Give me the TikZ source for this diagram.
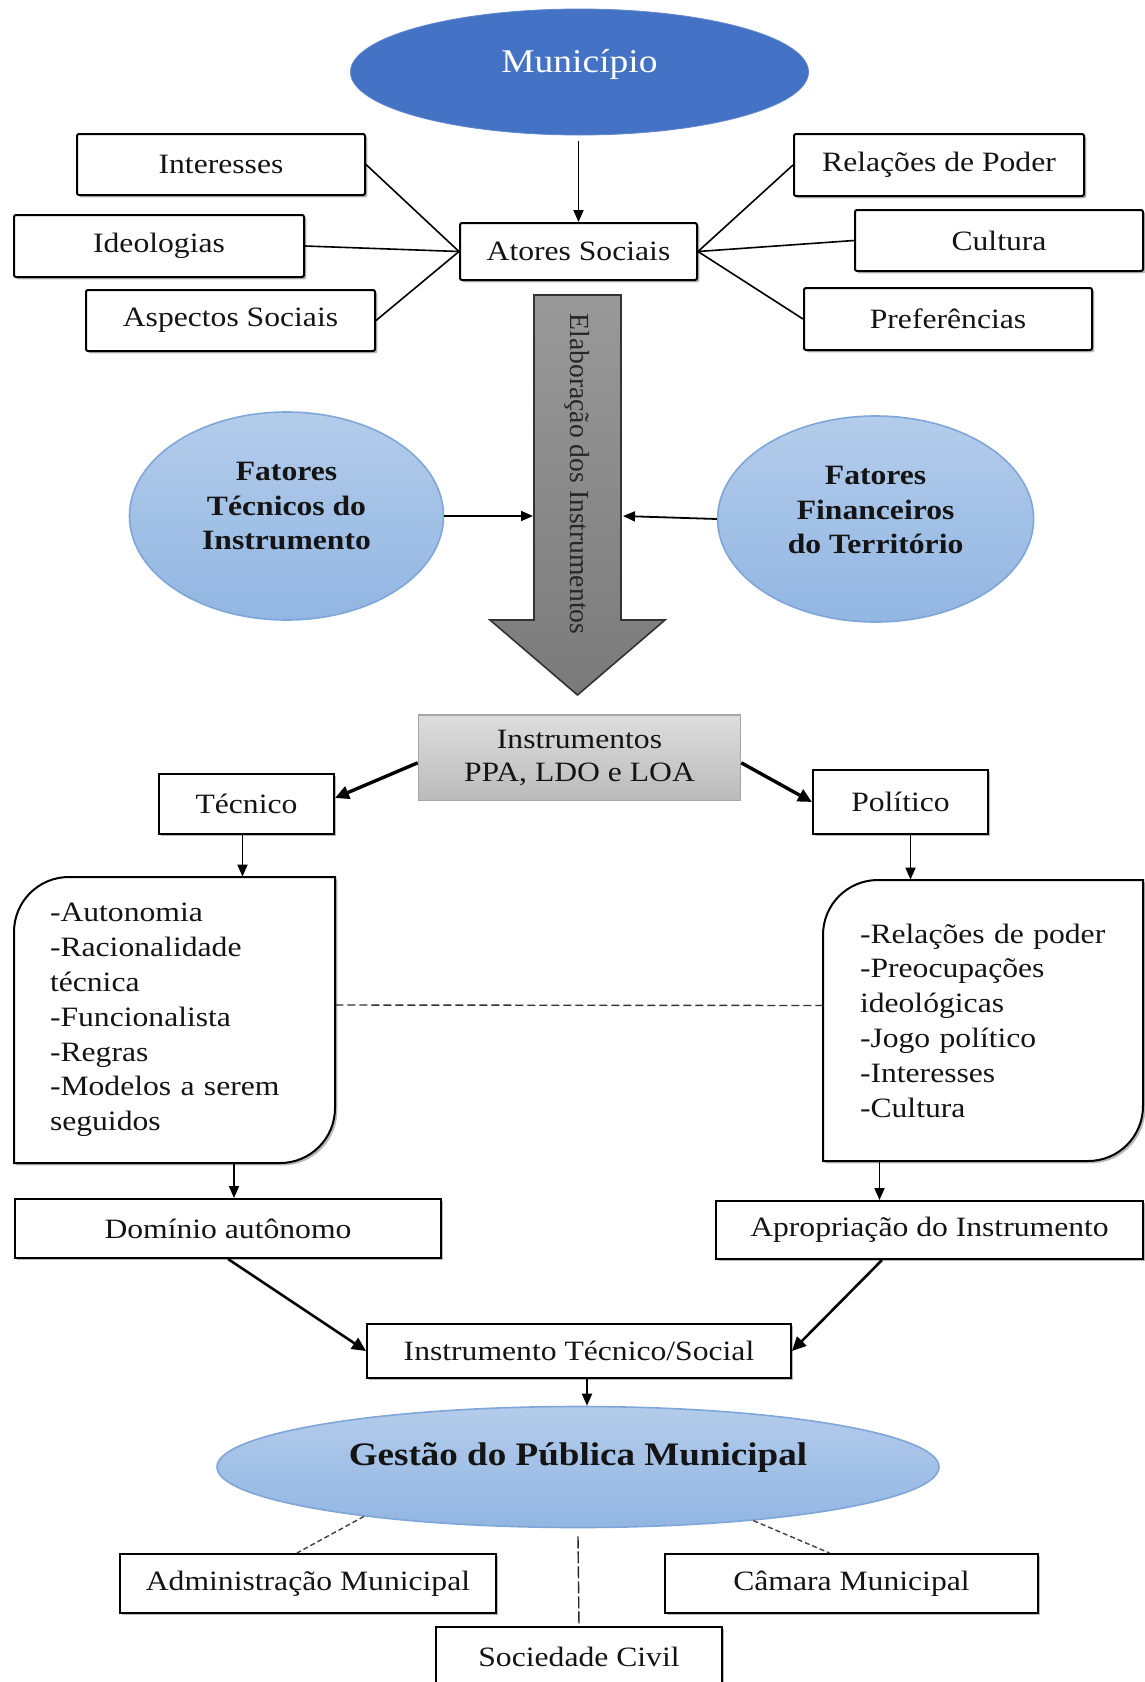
\documentclass[tikz,border=0pt]{standalone}
\usepackage{fontspec}
\setmainfont{Liberation Serif}[FakeStretch=1.13]
\newfontfamily\plainserif{Liberation Serif}
\usetikzlibrary{arrows.meta,shapes.geometric,shadows}
\definecolor{munblue}{HTML}{4472C4}
\definecolor{lbtop}{HTML}{B3CCEB}
\definecolor{lbbot}{HTML}{92B6E2}
\definecolor{lbedge}{HTML}{7FA6D8}
\definecolor{txt}{HTML}{141414}
\begin{document}
\begin{tikzpicture}[x=0.5pt,y=-0.5pt,
  every node/.style={text=txt},
  box/.style={draw=black, line width=1pt, fill=white, rectangle, rounded corners=1pt, inner sep=0pt,
    font=\fontsize{14}{17}\selectfont,
    drop shadow={shadow xshift=1.2pt, shadow yshift=-1.2pt, fill=black, opacity=0.28}},
  lblob/.style={ellipse, draw=lbedge, line width=0.8pt, top color=lbtop, bottom color=lbbot, inner sep=0pt},
  boldtxt/.style={font=\bfseries\fontsize{14}{17.4}\selectfont, align=center, inner sep=0pt},
  listtxt/.style={rectangle, inner xsep=18pt, inner ysep=0pt, align=left,
    font=\fontsize{14}{17.4}\selectfont},
  listshape/.style={draw=black, line width=1pt, fill=white,
    drop shadow={shadow xshift=1.2pt, shadow yshift=-1.2pt, fill=black, opacity=0.28}},
  link/.style={draw=black, line width=0.8pt},
  arr/.style={draw=black, line width=0.9pt, -{Triangle[length=6pt,width=5pt]}},
  tarr/.style={draw=black, line width=1.7pt, -{Triangle[length=7pt,width=6.5pt]}},
  dsh/.style={draw=black!80, line width=0.7pt, dash pattern=on 4pt off 2pt},
]
\fill[white] (0,0) rectangle (1145,1682);
\useasboundingbox (0,0) rectangle (1145,1682);

% --- top ---
\node[ellipse, fill=munblue, draw=munblue!85!white, minimum width=229pt, minimum height=63pt, inner sep=0pt] (mun) at (579.5,72) {};
\node[font=\fontsize{16.6}{19}\selectfont, text=white, inner sep=0pt] (munT) at (579.5,64) {Município};

\node[box, minimum width=118.5pt, minimum height=28.5pt] (atores) at (578.5,251.5) {Atores Sociais};
\node[box, minimum width=144pt, minimum height=30.5pt] (inter) at (221,164.5) {Interesses};
\node[box, minimum width=145pt, minimum height=31pt] (ideo) at (159,246) {Ideologias};
\node[box, minimum width=144.5pt, minimum height=30.5pt] (aspec) at (230.5,320.5) {Aspectos Sociais};
\node[box, minimum width=145pt, minimum height=31pt] (rel) at (939,165) {Relações de Poder};
\node[box, minimum width=144pt, minimum height=30.5pt] (cult) at (999,240.5) {Cultura};
\node[box, minimum width=144pt, minimum height=31pt] (pref) at (948,319) {Preferências};

\coordinate (munOut) at ([yshift=-3pt]mun.south -| atores.north);
\draw[arr] (munOut) -- (atores.north);
\draw[link] (inter.east) -- (atores.west);
\draw[link] (ideo.east) -- (atores.west);
\draw[link] (aspec.east) -- (atores.west);
\draw[link] (rel.west) -- (atores.east);
\draw[link] (cult.west) -- (atores.east);
\draw[link] (pref.west) -- (atores.east);

% --- big arrow ---
\shade[top color=black!40, bottom color=black!52, draw=black!80, line width=0.8pt]
  (534,295) -- (621,295) -- (621,620) -- (665,620) -- (577.5,695) -- (490,620) -- (534,620) -- cycle;
\node[rotate=-90, font=\plainserif\fontsize{13.8}{16}\selectfont, inner sep=0pt, text=black!85] (elab) at (577.5,474) {Elaboração dos Instrumentos};
\coordinate (shaftL) at (533,516);
\coordinate (shaftR) at (623,516);

\node[lblob, minimum width=157pt, minimum height=104pt] (fatT) at (286.5,516) {};
\node[boldtxt] (fatTt) at (286.5,506) {Fatores\\Técnicos do\\Instrumento};
\node[lblob, minimum width=158pt, minimum height=103pt] (fatF) at (875.6,519) {};
\node[boldtxt] (fatFt) at (875.6,510) {Fatores\\Financeiros\\do Território};
\draw[arr] (fatT.east) -- (shaftL);
\draw[arr] (fatF.west) -- (shaftR);

% --- instruments ---
\node[rectangle, draw=black!35, line width=0.8pt, top color=black!13, bottom color=black!27,
  minimum width=161pt, minimum height=42.75pt, inner sep=0pt, align=center,
  font=\fontsize{14}{16.6}\selectfont] (instr) at (579.5,757.8) {Instrumentos\\PPA, LDO e LOA};
\node[box, rounded corners=0pt, minimum width=87.5pt, minimum height=30pt] (tec) at (246.5,804) {Técnico};
\node[box, rounded corners=0pt, minimum width=87.5pt, minimum height=32pt] (pol) at (900.5,802) {Político};
\draw[tarr] ([yshift=-2.5pt]instr.west) -- ([yshift=3pt]tec.east);
\draw[tarr] ([yshift=-2.5pt]instr.east) -- (pol.west);

% --- lists ---
\path[listshape] (14,1163) -- (14,932) .. controls (14,901.6) and (38.4,877) .. (69,877)
  -- (335,877) -- (335,1108) .. controls (335,1138.4) and (310.6,1163) .. (280,1163) -- cycle;
\path[listshape] (823,1161) -- (823,935) .. controls (823,904.6) and (847.4,880) .. (878,880)
  -- (1143,880) -- (1143,1106) .. controls (1143,1136.4) and (1118.6,1161) .. (1088,1161) -- cycle;
\node[listtxt, text width=124.5pt, minimum height=143pt] (listL) at (174.5,1020)
  {-Autonomia\\-Racionalidade\\técnica\\-Funcionalista\\-Regras\\-Modelos a serem\\seguidos};
\node[listtxt, text width=123pt, minimum height=140.5pt] (listR) at (983,1020.5)
  {-Relações de poder\\-Preocupações\\ideológicas\\-Jogo político\\-Interesses\\-Cultura};
\coordinate (tecOut) at ([xshift=-2pt]tec.south);
\coordinate (polOut) at ([xshift=5pt]pol.south);
\draw[arr] (tecOut) -- (tecOut |- listL.north);
\draw[arr] (polOut) -- (polOut |- listR.north);
\draw[dsh] ([yshift=7.5pt]listL.east) -- ([yshift=7.5pt]listR.west);

% --- lower boxes ---
\node[box, rounded corners=0pt, minimum width=213pt, minimum height=29.5pt] (dom) at (228,1228.5) {Domínio autônomo};
\node[box, rounded corners=0pt, minimum width=213.5pt, minimum height=29pt] (apro) at (929.5,1230) {Apropriação do Instrumento};
\coordinate (domIn) at ([xshift=3pt]dom.north);
\coordinate (aproIn) at ([xshift=-25pt]apro.north);
\draw[arr] (domIn |- listL.south) -- (domIn);
\draw[arr] (aproIn |- listR.south) -- (aproIn);

\node[box, rounded corners=0pt, minimum width=212pt, minimum height=27pt] (its) at (579,1351) {Instrumento Técnico/Social};
\draw[tarr, line width=1.3pt] (dom.south) -- (its.west);
\draw[tarr, line width=1.3pt] ([xshift=-23.75pt]apro.south) -- (its.east);

\node[lblob, minimum width=361pt, minimum height=60.5pt] (gestao) at (578,1467) {};
\node[font=\bfseries\fontsize{16.4}{19}\selectfont, inner sep=0pt] (gestT) at (578,1458) {Gestão do Pública Municipal};
\coordinate (itsOut) at ([xshift=4pt]its.south);
\draw[arr] (itsOut) -- (itsOut |- gestao.north);

\node[box, rounded corners=0pt, minimum width=188pt, minimum height=29.5pt] (adm) at (308,1583.5) {Administração Municipal};
\node[box, rounded corners=0pt, minimum width=186.5pt, minimum height=29.5pt] (cam) at (851.5,1583.5) {Câmara Municipal};
\node[box, rounded corners=0pt, minimum width=143pt, minimum height=30pt, anchor=north] (soc) at (579,1626) {Sociedade Civil};

\draw[draw=black!75, line width=0.7pt, dash pattern=on 2.5pt off 1.5pt] (gestao.193) -- ([xshift=-5.5pt]adm.north);
\draw[draw=black!75, line width=0.7pt, dash pattern=on 2.5pt off 1.5pt] (gestao.343) -- ([xshift=-11pt]cam.north);
\draw[draw=black!85, line width=0.7pt, dash pattern=on 6pt off 1.5pt] ([yshift=-4pt]gestao.south) -- (soc.north);
\end{tikzpicture}
\end{document}
